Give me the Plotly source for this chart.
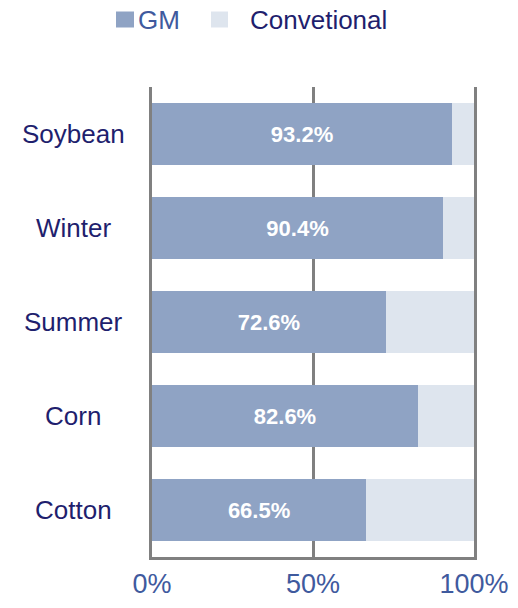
import plotly.graph_objects as go

categories = ["Soybean", "Winter", "Summer", "Corn", "Cotton"]
gm_values = [93.2, 90.4, 72.6, 82.6, 66.5]
conv_values = [round(100 - v, 1) for v in gm_values]
tick_vals = [0, 50, 100]
tick_text = ["0%", "50%", "100%"]
legend_names = ["GM", "Convetional"]

GM_COLOR = "#8FA3C4"
CONV_COLOR = "#DEE5EE"
NAVY = "#1F1F6E"
BLUE = "#3F5A9E"
GRID = "#808080"
FONT = "Liberation Sans, Arial"

# plot area at x 152..474, y 87..557 in the window (body margin removed below)
W, H = 518, 608
L, R, T, B = 152, 44, 87, 51
PW, PH = W - L - R, H - T - B


def px(x):  # window pixel x -> paper
    return (x - L) / PW


def py(y):  # window pixel y -> paper
    return (H - B - y) / PH


fig = go.Figure()
fig.add_trace(go.Bar(
    y=categories, x=gm_values, orientation="h", name=legend_names[0],
    marker=dict(color=GM_COLOR, line=dict(width=0)),
    text=[f"{v:.1f}%" for v in gm_values], textposition="inside",
    insidetextanchor="middle",
    textfont=dict(color="white", size=22, family=FONT, weight="bold"),
    showlegend=False, hoverinfo="skip",
))
fig.add_trace(go.Bar(
    y=categories, x=conv_values, orientation="h", name=legend_names[1],
    marker=dict(color=CONV_COLOR, line=dict(width=0)),
    showlegend=False, hoverinfo="skip",
))

# centred category labels (the reference centres them in the left gutter)
for cat in categories:
    fig.add_annotation(text=cat, xref="paper", yref="y", x=px(73), y=cat,
                       xanchor="center", yanchor="middle", showarrow=False,
                       font=dict(size=26, color=NAVY, family=FONT))

# legend (drawn manually to match the reference spacing)
legend_items = [
    (legend_names[0], GM_COLOR, BLUE, (116, 134), 137),
    (legend_names[1], CONV_COLOR, NAVY, (211, 228), 249),
]
for name, fill, tcol, (x0, x1), tx in legend_items:
    fig.add_shape(type="rect", xref="paper", yref="paper",
                  x0=px(x0), x1=px(x1), y0=py(27.5), y1=py(11.5),
                  fillcolor=fill, line=dict(width=0))
    fig.add_annotation(text=name, xref="paper", yref="paper",
                       x=px(tx), y=py(20), xanchor="left", yanchor="middle",
                       showarrow=False, borderpad=0,
                       font=dict(size=26, color=tcol, family=FONT))

fig.update_layout(
    width=W, height=H,
    barmode="stack", bargap=0.34,
    showlegend=False,
    plot_bgcolor="white", paper_bgcolor="white",
    margin=dict(l=L, r=R, t=T, b=B),
    font=dict(family=FONT, size=22, color=NAVY),
    xaxis=dict(range=[0, 100], tickvals=tick_vals, ticktext=tick_text,
               showgrid=True, gridcolor=GRID, gridwidth=3,
               showline=True, linecolor=GRID, linewidth=3, layer="below traces",
               zeroline=False, ticks="", ticklabelstandoff=1, automargin=False,
               tickfont=dict(size=27, color=BLUE)),
    yaxis=dict(categoryorder="array", categoryarray=categories[::-1],
               showline=True, mirror=True, linecolor=GRID, linewidth=3,
               layer="below traces", showticklabels=False,
               showgrid=False, zeroline=False, ticks="", automargin=False),
)

fig.write_html("out.html", config={"displayModeBar": False},
               post_script="document.body.style.margin='0';")
